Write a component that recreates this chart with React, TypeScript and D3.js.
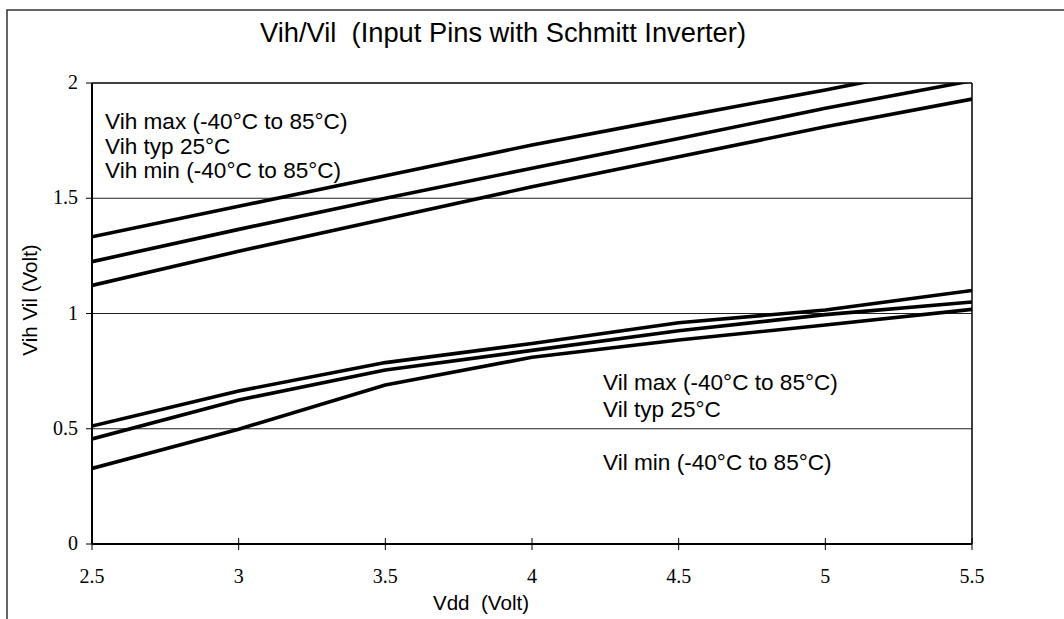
import * as d3 from "d3";

const WIDTH = 1064;
const HEIGHT = 619;
const PLOT = { left: 92, right: 972, top: 83, bottom: 544 };

const SANS = "'Liberation Sans', Arial, sans-serif";
const SERIF = "'Liberation Serif', 'Times New Roman', serif";

// supply voltage (x) and the six measured curves
const vdd = [2.5, 3, 3.5, 4, 4.5, 5, 5.5];
const vihMax = [1.333, 1.465, 1.598, 1.731, 1.852, 1.97, 2.095];
const vihTyp = [1.225, 1.365, 1.5, 1.63, 1.759, 1.89, 2.01];
const vihMin = [1.122, 1.27, 1.41, 1.55, 1.68, 1.81, 1.93];
const vilMax = [0.512, 0.664, 0.787, 0.87, 0.96, 1.015, 1.1];
const vilTyp = [0.456, 0.625, 0.755, 0.84, 0.925, 0.995, 1.05];
const vilMin = [0.328, 0.498, 0.69, 0.81, 0.885, 0.95, 1.018];

const xTicks = [2.5, 3, 3.5, 4, 4.5, 5, 5.5];
const yTicks = [0, 0.5, 1, 1.5, 2];
const gridValues = [0.5, 1, 1.5];

const vihLabels = ["Vih max (-40°C to 85°C)", "Vih typ 25°C", "Vih min (-40°C to 85°C)"];
const vilLabels = ["Vil max (-40°C to 85°C)", "Vil typ 25°C", "", "Vil min (-40°C to 85°C)"];

const pre = { whiteSpace: "pre" } as const;

export default function App() {
  const x = d3.scaleLinear().domain([2.5, 5.5]).range([PLOT.left, PLOT.right]);
  const y = d3.scaleLinear().domain([0, 2]).range([PLOT.bottom, PLOT.top]);

  const line = d3
    .line<number>()
    .x((_, i) => x(vdd[i]))
    .y((v) => y(v));

  const series = [vihMax, vihTyp, vihMin, vilMax, vilTyp, vilMin];

  return (
    <svg
      width={WIDTH}
      height={HEIGHT}
      viewBox={`0 0 ${WIDTH} ${HEIGHT}`}
      style={{ position: "absolute", left: 0, top: 0, background: "#fff" }}
    >
      <defs>
        <clipPath id="plotClip">
          <rect x={PLOT.left} y={PLOT.top} width={PLOT.right - PLOT.left} height={PLOT.bottom - PLOT.top} />
        </clipPath>
      </defs>

      {/* chart frame, runs off the right and bottom edges */}
      <rect x={7} y={10} width={1100} height={700} fill="none" stroke="#333" strokeWidth={1.5} />

      <text x={503} y={42} textAnchor="middle" fontFamily={SANS} fontSize={27.3} fill="#000" style={pre}>
        {"Vih/Vil  (Input Pins with Schmitt Inverter)"}
      </text>

      {gridValues.map((v) => (
        <line key={v} x1={PLOT.left} x2={PLOT.right} y1={y(v)} y2={y(v)} stroke="#222" strokeWidth={1} />
      ))}

      {/* plot top/right border */}
      <line x1={PLOT.left} x2={PLOT.right} y1={y(2)} y2={y(2)} stroke="#000" strokeWidth={1.5} />
      <line x1={PLOT.right} x2={PLOT.right} y1={PLOT.top} y2={PLOT.bottom} stroke="#000" strokeWidth={1.5} />

      <g clipPath="url(#plotClip)">
        {series.map((s, i) => (
          <path
            key={i}
            d={line(s) ?? ""}
            fill="none"
            stroke="#000"
            strokeWidth={3.6}
            strokeLinejoin="round"
          />
        ))}
      </g>

      {/* axes */}
      <line x1={PLOT.left} x2={PLOT.left} y1={PLOT.top} y2={PLOT.bottom} stroke="#000" strokeWidth={2} />
      <line x1={PLOT.left} x2={PLOT.right} y1={PLOT.bottom} y2={PLOT.bottom} stroke="#000" strokeWidth={2} />

      {yTicks.map((t) => (
        <g key={t}>
          <line x1={PLOT.left - 6} x2={PLOT.left} y1={y(t)} y2={y(t)} stroke="#000" strokeWidth={1} />
          <text x={78} y={y(t) + 6} textAnchor="end" fontFamily={SERIF} fontSize={20} fill="#000">
            {t}
          </text>
        </g>
      ))}

      {xTicks.map((t) => (
        <g key={t}>
          <line x1={x(t)} x2={x(t)} y1={PLOT.bottom - 6} y2={PLOT.bottom + 6} stroke="#000" strokeWidth={1} />
          <text x={x(t)} y={583} textAnchor="middle" fontFamily={SERIF} fontSize={20} fill="#000">
            {t}
          </text>
        </g>
      ))}

      <text
        transform={`translate(37, 300) rotate(-90)`}
        textAnchor="middle"
        fontFamily={SANS}
        fontSize={20.6}
        fill="#000"
      >
        Vih Vil (Volt)
      </text>
      <text x={481} y={610} textAnchor="middle" fontFamily={SANS} fontSize={20.6} fill="#000" style={pre}>
        {"Vdd  (Volt)"}
      </text>

      {vihLabels.map((label, i) => (
        <text key={label} x={105} y={129 + i * 24.5} fontFamily={SANS} fontSize={22.6} fill="#000">
          {label}
        </text>
      ))}

      {vilLabels.map((label, i) =>
        label ? (
          <text key={label} x={603} y={390 + i * 26.7} fontFamily={SANS} fontSize={22.6} fill="#000">
            {label}
          </text>
        ) : null
      )}
    </svg>
  );
}
